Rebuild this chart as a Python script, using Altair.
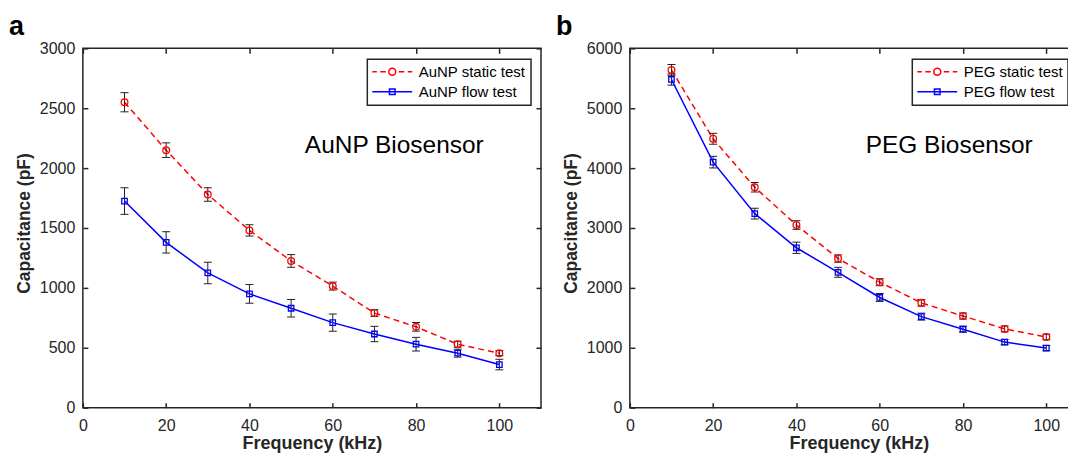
import altair as alt
import pandas as pd

freq = [10, 20, 30, 40, 50, 60, 70, 80, 90, 100]

aunp_static = [2550, 2150, 1780, 1480, 1225, 1015, 790, 675, 530, 455]
aunp_static_err = [80, 61, 57, 47, 53, 33, 28, 36, 25, 21]
aunp_flow = [1725, 1380, 1125, 950, 830, 710, 615, 530, 455, 360]
aunp_flow_err = [111, 89, 90, 78, 73, 72, 64, 57, 33, 44]

peg_static = [5640, 4490, 3680, 3050, 2490, 2095, 1750, 1530, 1315, 1180]
peg_static_err = [90, 91, 80, 72, 61, 58, 55, 50, 50, 47]
peg_flow = [5480, 4100, 3240, 2670, 2260, 1840, 1520, 1310, 1095, 995]
peg_flow_err = [94, 97, 89, 94, 83, 66, 58, 50, 44, 44]

x_ticks = [0, 20, 40, 60, 80, 100]

FONT = "Liberation Sans, Arial, Helvetica, sans-serif"
RED = "#ff0000"
BLUE = "#0000ff"
ERR = "#222222"
AX = "#262626"

# legend symbols: line sample with marker (unit = 5.5 px)
PATH_S = ("M-3.636,0L-2.818,0M-2.182,0L-1.182,0"
          "M0.636,0A0.636,0.636,0,1,1,-0.636,0A0.636,0.636,0,1,1,0.636,0"
          "M1.182,0L2.182,0M2.818,0L3.636,0")
PATH_F = "M-3.636,0L3.636,0M-0.51,-0.51L0.51,-0.51L0.51,0.51L-0.51,0.51Z"


def long_df(s, se, f, fe, sname, fname):
    rows = []
    for x, v, e in zip(freq, s, se):
        rows.append({"freq": x, "cap": v, "err": e, "series": sname})
    for x, v, e in zip(freq, f, fe):
        rows.append({"freq": x, "cap": v, "err": e, "series": fname})
    return pd.DataFrame(rows)


def panel(s, se, f, fe, sname, fname, ymax, ystep, letter, annot, annot_x, leg_x):
    df = long_df(s, se, f, fe, sname, fname)
    base = alt.Chart(df)
    y_ticks = list(range(0, ymax + 1, ystep))

    ax_bottom = alt.Axis(orient="bottom", values=x_ticks, tickSize=5, offset=-5,
                         domain=False, grid=False, labelPadding=10, labelFontSize=16,
                         labelFont=FONT, labelColor=AX, tickColor=AX, tickWidth=1.5,
                         labelFlush=False, labelOverlap=False, format="d",
                         title="Frequency (kHz)", titleFontSize=18, titleFont=FONT,
                         titleFontWeight="bold", titleColor=AX, titlePadding=1)
    ax_top = alt.Axis(orient="top", values=x_ticks, tickSize=5, offset=-5,
                      domain=False, grid=False, labels=False, tickColor=AX,
                      tickWidth=1.5, title=None)
    ax_left = alt.Axis(orient="left", values=y_ticks, tickSize=5, offset=-5,
                       domain=False, grid=False, labelPadding=8, labelFontSize=16,
                       labelFont=FONT, labelColor=AX, tickColor=AX, tickWidth=1.5,
                       labelOverlap=False, format="d",
                       title="Capacitance (pF)", titleFontSize=17.5, titleFont=FONT,
                       titleFontWeight="bold", titleColor=AX, titleX=-54, titleY=175)
    ax_right = alt.Axis(orient="right", values=y_ticks, tickSize=5, offset=-5,
                        domain=False, grid=False, labels=False, tickColor=AX,
                        tickWidth=1.5, title=None)

    def X(axis):
        return alt.X("freq:Q", scale=alt.Scale(domain=[0, 110], nice=False, zero=False),
                     axis=axis)

    def Y(field, axis):
        return alt.Y(field + ":Q", scale=alt.Scale(domain=[0, ymax], nice=False),
                     axis=axis)

    st = base.transform_filter(alt.datum.series == sname)
    fl = base.transform_filter(alt.datum.series == fname)
    eb = base.transform_calculate(lo="datum.cap - datum.err", hi="datum.cap + datum.err")

    line_s = st.mark_line(color=RED, strokeDash=[6, 4], strokeWidth=1.5).encode(
        x=X(ax_bottom), y=Y("cap", ax_left))
    line_f = fl.mark_line(color=BLUE, strokeWidth=1.5).encode(
        x=X(None), y=Y("cap", None))
    bars = eb.mark_rule(color=ERR, strokeWidth=1).encode(
        x=X(ax_top), y=Y("lo", ax_right), y2="hi:Q")
    cap_lo = eb.mark_tick(orient="horizontal", size=8, thickness=1, color=ERR,
                          opacity=1).encode(x=X(None), y=Y("lo", None))
    cap_hi = eb.mark_tick(orient="horizontal", size=8, thickness=1, color=ERR,
                          opacity=1).encode(x=X(None), y=Y("hi", None))
    pts_s = st.mark_point(shape="circle", filled=False, color=RED, size=45,
                          strokeWidth=1.3, opacity=1).encode(x=X(None), y=Y("cap", None))
    pts_f = fl.mark_point(shape="square", filled=False, color=BLUE, size=30,
                          strokeWidth=1.3, opacity=1).encode(x=X(None), y=Y("cap", None))

    leg = alt.Legend(title=None, orient="none", legendX=leg_x, legendY=11, padding=5,
                     strokeColor=AX, fillColor="white", symbolSize=121,
                     symbolOffset=12.5, symbolStrokeWidth=1.5, labelFontSize=15,
                     labelFont=FONT, labelColor="black", labelOffset=19, rowPadding=4)
    legend_layer = base.transform_filter("false").mark_point(
        filled=False, strokeWidth=1.5, opacity=1).encode(
        color=alt.Color("series:N", scale=alt.Scale(domain=[sname, fname],
                                                    range=[RED, BLUE]), legend=leg),
        shape=alt.Shape("series:N", scale=alt.Scale(domain=[sname, fname],
                                                    range=[PATH_S, PATH_F]), legend=leg))

    letter_layer = alt.Chart(pd.DataFrame({"t": [letter]})).mark_text(
        align="left", baseline="alphabetic", fontSize=27, fontWeight="bold",
        font=FONT, color="black").encode(x=alt.value(-74), y=alt.value(-13), text="t:N")
    annot_layer = alt.Chart(pd.DataFrame({"t": [annot]})).mark_text(
        align="center", baseline="alphabetic", fontSize=24.5, font=FONT,
        color="black").encode(x=alt.value(annot_x), y=alt.value(105), text="t:N")

    return alt.layer(line_s, line_f, bars, cap_lo, cap_hi, pts_s, pts_f,
                     legend_layer, letter_layer, annot_layer).properties(
        width=459, height=360)


p1 = panel(aunp_static, aunp_static_err, aunp_flow, aunp_flow_err,
           "AuNP static test", "AuNP flow test", 3000, 500, "a", "AuNP Biosensor",
           312, 285)
p2 = panel(peg_static, peg_static_err, peg_flow, peg_flow_err,
           "PEG static test", "PEG flow test", 6000, 1000, "b", "PEG Biosensor",
           320, 283)

chart = alt.hconcat(p1, p2, spacing=12).resolve_scale(
    color="independent", shape="independent").resolve_legend(
    color="independent", shape="independent").properties(
    padding={"left": 0, "top": 4, "right": -22, "bottom": 0}).configure_view(
    stroke=AX, strokeWidth=1.5).configure_legend(strokeWidth=1.5)

chart.save("out.html", embed_options={"renderer": "svg", "actions": False})
